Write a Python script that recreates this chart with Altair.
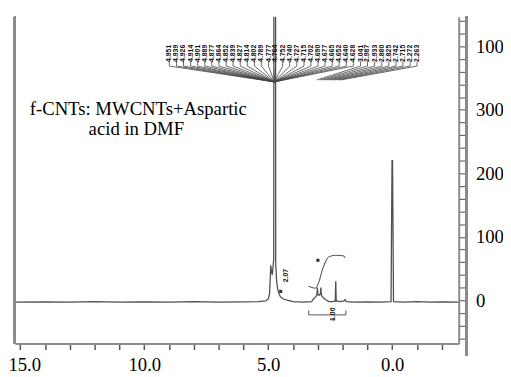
import altair as alt
import pandas as pd

# ---------------- data ----------------
spec_ppm = [15.22, 14.0, 13.0, 12.0, 11.0, 10.0, 9.0, 8.0, 7.0, 6.0, 5.4, 5.1, 5.0, 4.95,
            4.92, 4.90, 4.88, 4.84, 4.78, 4.75, 4.73, 4.70, 4.66, 4.60, 4.52, 4.40, 4.2,
            4.0, 3.6, 3.25, 3.18, 3.10, 3.04, 3.02, 3.00, 2.95, 2.90, 2.88, 2.86, 2.80,
            2.72, 2.65, 2.55, 2.40, 2.30, 2.28, 2.26, 2.1, 1.95, 1.90, 1.85, 1.5, 1.0,
            0.5, 0.05, 0.01, -0.01, -0.05, -0.5, -1.0, -1.5, -2.0, -2.68]
spec_int = [-3, -2.5, -3, -2, -3, -2.5, -3, -2, -3, -2.5, -2, -1, 2, 10,
            35, 55, 48, 40, 65, 2000, 2000, 55, 28, 14, 6, 2, 0,
            -2, -3, -2, 2, 5, 8, 20, 9, 8, 10, 20, 8, 5,
            2, 0, -2, -2, -1, 30, -1, -2, -1, 1, -2, -3, -2.5,
            -3, -2, 220, 220, -2, -3, -2, -3, -2.5, -3]

integral_ppm = [3.37, 3.10, 2.94, 2.82, 2.70, 2.58, 2.30, 1.98, 1.90]
integral_val = [22, 19, 31, 48, 60, 68, 71, 70, 67]

label_ppm = [8.99, 8.70, 8.42, 8.13, 7.85, 7.56, 7.28, 6.99, 6.70, 6.42, 6.13, 5.85,
             5.56, 5.28, 4.99, 4.71, 4.42, 4.14, 3.85, 3.56, 3.28, 2.99, 2.71, 2.42,
             2.14, 1.85, 1.57, 1.28, 1.00, 0.71, 0.42, 0.14, -0.15, -0.43, -0.72, -1.00]
label_text = ["4.951", "4.939", "4.926", "4.914", "4.901", "4.889", "4.877",
              "4.864", "4.852", "4.839", "4.827", "4.814", "4.802", "4.789",
              "4.777", "4.764", "4.752", "4.740", "4.727", "4.715", "4.702",
              "4.690", "4.677", "4.665", "4.652", "4.640", "4.628",
              "3.041", "2.987", "2.933", "2.880", "2.825", "2.742", "2.715",
              "2.272", "2.263"]
label_target = [4.76] * 27 + [3.04, 2.92, 2.80, 2.68, 2.56, 2.44, 2.32, 2.20, 2.08]
label_target_val = [344] * 27 + [347] * 9

# integration bracket segments (ppm1, val1, ppm2, val2)
bracket_x1 = [3.37, 3.37, 1.87, 2.38]
bracket_y1 = [-23, -23, -23, -28]
bracket_x2 = [1.87, 3.37, 1.87, 2.38]
bracket_y2 = [-23, -16, -16, -33]

small_lbl_ppm = [2.38, 4.30]
small_lbl_val = [-22, 39]
small_lbl_text = ["1.00", "2.07"]

dot_ppm = [4.50, 3.00]
dot_val = [14, 63]

note_lines = ["f-CNTs: MWCNTs+Aspartic", "acid in DMF"]

x_ticks = list(range(-2, 16))
y_ticks = list(range(-60, 441, 20))

# ---------------- chart ----------------
W, H = 451, 332
xs = alt.Scale(domain=[-2.679, 15.218], reverse=True, nice=False, zero=False)
ys = alt.Scale(domain=[-68.2, 446.5], nice=False, zero=False)

spec = pd.DataFrame({"ppm": spec_ppm, "val": spec_int})
integ = pd.DataFrame({"ppm": integral_ppm, "val": integral_val})
labels = pd.DataFrame({"ppm": label_ppm, "text": label_text,
                       "target": label_target, "tval": label_target_val})
labels["top"] = 376
labels["mid"] = 369
labels["ctr"] = 389
brk = pd.DataFrame({"x1": bracket_x1, "y1": bracket_y1, "x2": bracket_x2, "y2": bracket_y2})
small = pd.DataFrame({"ppm": small_lbl_ppm, "val": small_lbl_val, "text": small_lbl_text})
dots_df = pd.DataFrame({"ppm": dot_ppm, "val": dot_val})
notes = pd.DataFrame({"text": note_lines, "ppm": [14.62, 10.32], "val": [291.5, 260.5]})

serif = "Liberation Serif"

xaxis = alt.Axis(values=x_ticks, title=None, grid=False, orient="bottom",
                 labelExpr="datum.value % 5 == 0 ? format(datum.value, '.1f') : ''",
                 labelOffset={"condition": {"test": "datum.value == 15", "value": 4}, "value": 0},
                 domainColor="#8c8c8c", domainWidth=2, tickColor="#555", tickWidth=1.5,
                 tickSize=6, labelFont=serif, labelFontSize=19, labelColor="black",
                 labelPadding=6, labelOverlap=False, labelFlush=False)
yaxis = alt.Axis(values=y_ticks, title=None, grid=False, orient="right",
                 labelExpr="datum.value % 100 == 0 ? (datum.value == 400 ? '100' : format(datum.value, 'd')) : ''",
                 domainColor="#8c8c8c", domainWidth=2, tickColor="#666", tickWidth=1.2,
                 tickSize=7, labelFont=serif, labelFontSize=19, labelColor="black",
                 labelPadding=10, labelOverlap=False, labelFlush=False, labelBaseline="middle")


def X(f):
    return alt.X(f, type="quantitative", scale=xs, axis=xaxis, title=None)


def Y(f):
    return alt.Y(f, type="quantitative", scale=ys, axis=yaxis, title=None)


line = alt.Chart(spec).mark_line(color="#505050", strokeWidth=1.3, clip=True).encode(
    x=X("ppm"), y=Y("val"))

integral = alt.Chart(integ).mark_line(color="#5a5a5a", strokeWidth=1.1,
                                      interpolate="monotone").encode(x=X("ppm"), y=Y("val"))

left_frame = alt.Chart(spec).mark_rule(color="#8c8c8c", strokeWidth=2).encode(
    x=alt.value(0), y=alt.value(0), y2=alt.value(H))
right_frame = alt.Chart(spec).mark_rule(color="#8c8c8c", strokeWidth=2).encode(
    x=alt.value(W + 8), y=alt.value(0), y2=alt.value(H + 12))

stubs = alt.Chart(labels).mark_rule(color="#444", strokeWidth=0.8).encode(
    x=X("ppm"), y=Y("top"), y2="mid:Q")
fan = alt.Chart(labels).mark_rule(color="#444", strokeWidth=0.8).encode(
    x=X("ppm"), x2="target:Q", y=Y("mid"), y2="tval:Q")
peak_text = alt.Chart(labels).mark_text(angle=270, font="Liberation Sans", fontSize=7,
                                        fontWeight="bold", color="#111").encode(
    x=X("ppm"), y=Y("ctr"), text="text:N")

bracket = alt.Chart(brk).mark_rule(color="#555", strokeWidth=1).encode(
    x=X("x1"), x2="x2:Q", y=Y("y1"), y2="y2:Q")
small_lbl = alt.Chart(small).mark_text(angle=270, font="Liberation Sans", fontSize=7,
                                       fontWeight="bold", color="#111").encode(
    x=X("ppm"), y=Y("val"), text="text:N")
dots = alt.Chart(dots_df).mark_point(shape="square", filled=True, size=10,
                                     color="#333", opacity=1).encode(x=X("ppm"), y=Y("val"))

t1 = alt.Chart(notes.iloc[[0]]).mark_text(align="left", baseline="alphabetic", font=serif,
                                          fontSize=19, color="black").encode(
    x=X("ppm"), y=Y("val"), text="text:N")
t2 = alt.Chart(notes.iloc[[1]]).mark_text(align="center", baseline="alphabetic", font=serif,
                                          fontSize=19, color="black").encode(
    x=X("ppm"), y=Y("val"), text="text:N")

chart = alt.layer(line, integral, left_frame, right_frame, stubs, fan, peak_text,
                  bracket, small_lbl, dots, t1, t2).properties(
    width=W, height=H,
    autosize=alt.AutoSizeParams(type="none"),
    padding={"left": 7, "top": 6, "right": 45, "bottom": 31},
    background="white",
).configure_view(stroke=None)

chart.save("out.html", embed_options={"renderer": "svg", "actions": False})
